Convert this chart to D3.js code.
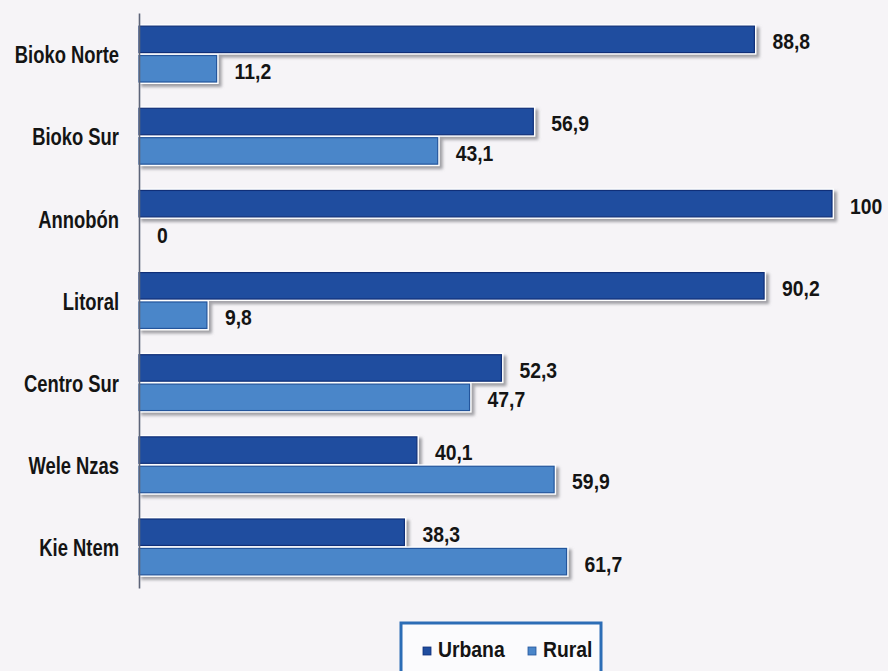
<!DOCTYPE html>
<html><head><meta charset="utf-8">
<script src="https://cdn.jsdelivr.net/npm/d3@7"></script>
<style>
body{margin:0;background:#f6f4f7;}
svg{display:block;}
text{font-family:"Liberation Sans","Arial",sans-serif;font-weight:bold;fill:#141414;}
</style></head>
<body>
<svg id="c" width="888" height="671"></svg>
<script>
const categories = ["Bioko Norte","Bioko Sur","Annobón","Litoral","Centro Sur","Wele Nzas","Kie Ntem"];
const series = ["Urbana","Rural"];
const urbana = [88.8, 56.9, 100, 90.2, 52.3, 40.1, 38.3];
const rural = [11.2, 43.1, 0, 9.8, 47.7, 59.9, 61.7];
const valueLabels = {Urbana:["88,8","56,9","100","90,2","52,3","40,1","38,3"], Rural:["11,2","43,1","0","9,8","47,7","59,9","61,7"]};
const colors = {Urbana:"#1f4d9f", Rural:"#4a86c9"};
const strokes = {Urbana:"#102f78", Rural:"#23559c"};
const SX = 0.88; // condensed look
const SXC = 0.8;

const svg = d3.select("#c");
const defs = svg.append("defs");
const f = defs.append("filter").attr("id","sh").attr("x","-5%").attr("y","-30%").attr("width","115%").attr("height","180%");
f.append("feDropShadow").attr("dx",3).attr("dy",3).attr("stdDeviation",1.5).attr("flood-color","#8a8a90").attr("flood-opacity",0.8);

const x = d3.scaleLinear().domain([0,100]).range([139,832]);
const y = d3.scaleBand().domain(categories).range([13,588]).paddingInner(0.32).paddingOuter(0.16);
const ys = d3.scaleBand().domain(series).range([0,y.bandwidth()]).paddingInner(0.1);

const data = [];
categories.forEach((c,i)=>{
  data.push({cat:c, s:"Urbana", v:urbana[i], lab:valueLabels.Urbana[i]});
  data.push({cat:c, s:"Rural", v:rural[i], lab:valueLabels.Rural[i]});
});

const g = svg.append("g");
g.selectAll("rect.bg").data(data.filter(d=>d.v>0)).join("rect")
  .attr("class","bg")
  .attr("x", x(0)-1)
  .attr("y", d=>y(d.cat)+ys(d.s)-2)
  .attr("width", d=>x(d.v)-x(0)+3)
  .attr("height", ys.bandwidth()+4)
  .attr("fill","#ffffff")
  .attr("filter","url(#sh)");
g.selectAll("rect.bar").data(data.filter(d=>d.v>0)).join("rect")
  .attr("class","bar")
  .attr("x", x(0))
  .attr("y", d=>y(d.cat)+ys(d.s))
  .attr("width", d=>x(d.v)-x(0))
  .attr("height", ys.bandwidth())
  .attr("fill", d=>colors[d.s])
  .attr("stroke", d=>strokes[d.s])
  .attr("stroke-width",1.2);

// axis
const ax = svg.append("g").attr("transform",`translate(${x(0)},0)`).call(d3.axisLeft(y).tickSize(0).tickPadding(0));
ax.attr("font-family",null).attr("font-size",null);
ax.select(".domain").attr("stroke","#5d6478").attr("stroke-width",1.6);
ax.selectAll(".tick text")
  .attr("x",0).attr("dy","0.36em")
  .attr("transform",`translate(-20,1) scale(${SXC},1)`)
  .style("font-size","23px").style("fill","#141414");

// value labels
g.selectAll("text.val").data(data).join("text")
  .attr("class","val")
  .attr("transform", d=>`translate(${x(d.v)+18},${y(d.cat)+ys(d.s)+ys.bandwidth()/2+2}) scale(${SX},1)`)
  .attr("dy","0.36em")
  .style("font-size","22px")
  .text(d=>d.lab);

// legend
const lg = svg.append("g").attr("transform","translate(401,623)");
lg.append("rect").attr("width",200).attr("height",60).attr("fill","#fbfbfd").attr("stroke","#2c6db6").attr("stroke-width",3);
const items = [{s:"Urbana",x:22},{s:"Rural",x:127}];
items.forEach(it=>{
  lg.append("rect").attr("x",it.x).attr("y",24).attr("width",8).attr("height",8).attr("fill",colors[it.s]).attr("stroke",strokes[it.s]).attr("stroke-width",0.8);
  lg.append("text").attr("transform",`translate(${it.x+15},34) scale(${SX},1)`).style("font-size","22px").text(it.s);
});
</script>
</body></html>
